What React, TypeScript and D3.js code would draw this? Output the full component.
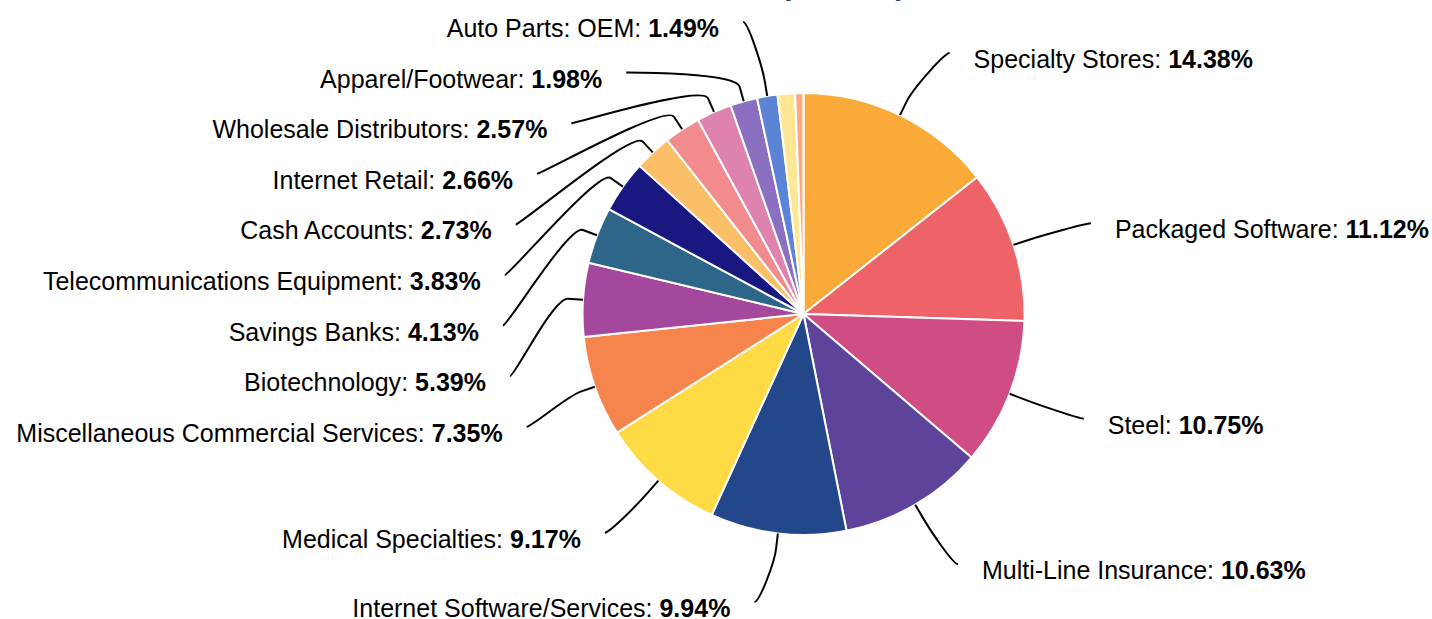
import React from "react";
import * as d3 from "d3";

// ---- data ----
const categories: string[] = [
  "Specialty Stores",
  "Packaged Software",
  "Steel",
  "Multi-Line Insurance",
  "Internet Software/Services",
  "Medical Specialties",
  "Miscellaneous Commercial Services",
  "Biotechnology",
  "Savings Banks",
  "Telecommunications Equipment",
  "Cash Accounts",
  "Internet Retail",
  "Wholesale Distributors",
  "Apparel/Footwear",
  "Auto Parts: OEM",
  "Other",
  "Unclassified",
];
const values: number[] = [
  14.38, 11.12, 10.75, 10.63, 9.94, 9.17, 7.35, 5.39, 4.13, 3.83, 2.73, 2.66,
  2.57, 1.98, 1.49, 1.27, 0.61,
];
const colors: string[] = [
  "#F9AA38",
  "#EE6368",
  "#D04D83",
  "#5E439B",
  "#22478A",
  "#FEDB45",
  "#F6844D",
  "#A3489D",
  "#2E6689",
  "#191780",
  "#FBBF68",
  "#F28B8E",
  "#DD83AD",
  "#8B70C1",
  "#5B83D6",
  "#FEE694",
  "#F8AA86",
];
const titleText = "Portfolio Allocation by Industry";
const labelMinPercent = 1.4;

// ---- layout ----
const W = 1432;
const H = 619;
const cx = 803.5;
const cy = 314;
const radius = 221;
const naturalR = 290;
const labelCy = 311;
const labelRx = 301;
const labelRy = 295;
const breakOffset = 15;
const spacing = 50.6;
const topBound = 22;
const bottomBound = 603;
const textGap = 24;
const fontSize = 25;

type Lab = {
  i: number;
  mid: number;
  side: "left" | "right";
  target: number;
  y: number;
};

function distribute(items: Lab[]) {
  items.sort((a, b) => a.target - b.target);
  const clusters: Lab[][] = items.map((it) => [it]);
  const posOf = (c: Lab[]) => {
    const p = d3.mean(c, (it, k) => it.target - k * spacing) as number;
    return Math.max(topBound, Math.min(bottomBound - (c.length - 1) * spacing, p));
  };
  let changed = true;
  while (changed) {
    changed = false;
    for (let k = 1; k < clusters.length; k++) {
      const a = clusters[k - 1];
      const b = clusters[k];
      if (posOf(a) + a.length * spacing > posOf(b) + 0.001) {
        clusters.splice(k - 1, 2, a.concat(b));
        changed = true;
        break;
      }
    }
  }
  clusters.forEach((c) => {
    const p = posOf(c);
    c.forEach((it, k) => (it.y = p + k * spacing));
  });
}

export default function App() {
  const total = d3.sum(values);
  const arcs = d3
    .pie<number>()
    .sort(null)
    .value((d) => d)(values);
  const arcGen = d3
    .arc<d3.PieArcDatum<number>>()
    .innerRadius(0)
    .outerRadius(radius);

  const pt = (ang: number, rr: number) => [
    cx + rr * Math.sin(ang),
    cy - rr * Math.cos(ang),
  ];

  const labs: Lab[] = [];
  arcs.forEach((a, i) => {
    const pct = (values[i] / total) * 100;
    if (pct < labelMinPercent) return;
    const mid = (a.startAngle + a.endAngle) / 2;
    labs.push({
      i,
      mid,
      side: mid < Math.PI ? "right" : "left",
      target: cy - naturalR * Math.cos(mid),
      y: 0,
    });
  });
  distribute(labs.filter((l) => l.side === "left"));
  distribute(labs.filter((l) => l.side === "right"));

  const fmt = d3.format(".2f");

  return (
    <svg
      width={W}
      height={H}
      style={{ position: "absolute", left: 0, top: 0, background: "#fff" }}
      fontFamily="'Liberation Sans', Arial, Helvetica, sans-serif"
    >
      <text
        x={W / 2}
        y={-4}
        textAnchor="middle"
        fontSize={26}
        fontWeight="bold"
        fill="#1F3D6E"
      >
        {titleText}
      </text>
      <g>
        {arcs.map((a, i) => (
          <path
            key={i}
            d={arcGen(a) as string}
            transform={`translate(${cx},${cy})`}
            fill={colors[i]}
            stroke="#fff"
            strokeWidth={2}
            strokeLinejoin="round"
          />
        ))}
      </g>
      <g>
        {labs.map((l) => {
          const dy = l.y - labelCy;
          const t = Math.max(0, 1 - (dy / labelRy) * (dy / labelRy));
          const dx = labelRx * Math.sqrt(t);
          const sign = l.side === "right" ? 1 : -1;
          const lx = cx + sign * dx;
          const ly = l.y;
          const [tx, ty] = pt(l.mid, radius);
          const [bx, by] = pt(l.mid, radius + breakOffset);
          const c1x = lx - sign * 5;
          const c2x = 2 * bx - tx;
          const c2y = 2 * by - ty;
          const path = `M${lx},${ly}C${c1x},${ly} ${c2x},${c2y} ${bx},${by}L${tx},${ty}`;
          const textX = lx + sign * textGap;
          return (
            <g key={l.i}>
              <path d={path} fill="none" stroke="#000" strokeWidth={2} />
              <text
                x={textX}
                y={ly + 15}
                textAnchor={l.side === "right" ? "start" : "end"}
                fontSize={fontSize}
                fill="#000"
              >
                {categories[l.i]}:{" "}
                <tspan fontWeight="bold">{fmt(values[l.i])}%</tspan>
              </text>
            </g>
          );
        })}
      </g>
    </svg>
  );
}
